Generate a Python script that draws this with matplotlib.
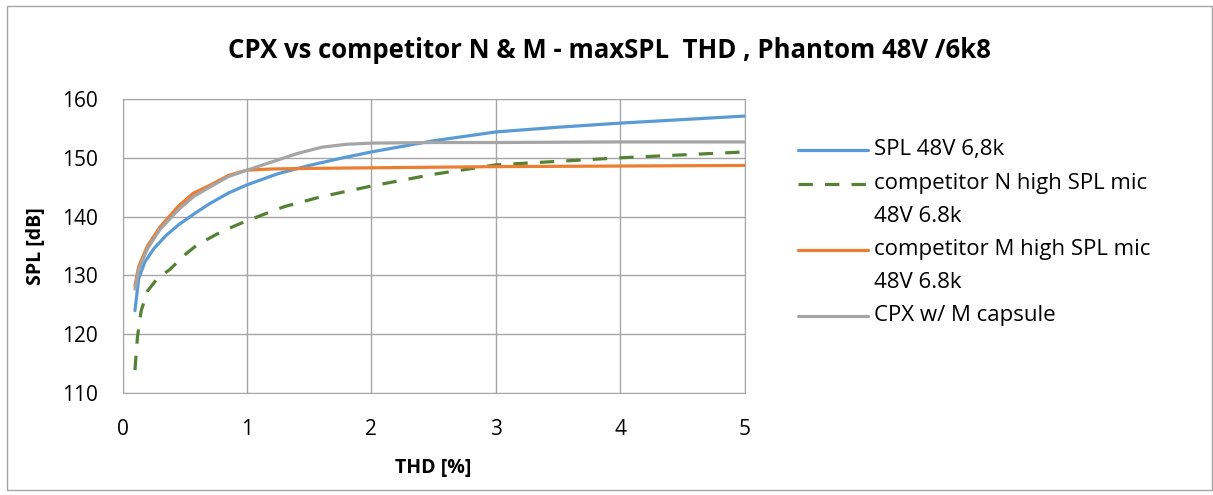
import matplotlib
matplotlib.use("Agg")
import matplotlib.pyplot as plt
from matplotlib.patches import Rectangle
from matplotlib.lines import Line2D

plt.rcParams['font.family'] = ['Open Sans', 'DejaVu Sans']

# THD [%] / SPL [dB] readings
blue_x = [0.1, 0.13, 0.18, 0.25, 0.35, 0.45, 0.57, 0.7, 0.85, 1.0, 1.25, 1.5, 1.75, 2.0, 2.5, 3.0, 3.5, 4.0, 4.5, 5.0]
blue_y = [124.0, 129.5, 132.3, 134.5, 136.8, 138.6, 140.4, 142.2, 144.0, 145.4, 147.3, 148.7, 149.9, 151.0, 152.9, 154.4, 155.2, 155.9, 156.5, 157.1]

green_x = [0.1, 0.12, 0.15, 0.2, 0.28, 0.38, 0.5, 0.6, 0.8, 1.0, 1.3, 1.6, 2.0, 2.5, 3.0, 3.5, 4.0, 4.5, 5.0]
green_y = [113.9, 119.5, 124.0, 127.3, 129.5, 131.0, 133.5, 135.2, 137.5, 139.3, 141.7, 143.4, 145.2, 147.2, 148.8, 149.4, 150.0, 150.5, 151.0]

orange_x = [0.1, 0.13, 0.2, 0.3, 0.45, 0.57, 0.7, 0.85, 1.0, 1.2, 1.5, 2.0, 3.0, 4.0, 5.0]
orange_y = [128.3, 131.5, 135.0, 138.2, 141.8, 144.0, 145.3, 147.0, 147.9, 148.1, 148.2, 148.3, 148.5, 148.6, 148.7]

gray_x = [0.1, 0.13, 0.2, 0.3, 0.45, 0.57, 0.7, 0.85, 1.0, 1.2, 1.4, 1.6, 1.8, 2.0, 2.5, 3.0, 4.0, 5.0]
gray_y = [127.7, 131.0, 134.5, 137.8, 141.2, 143.4, 145.0, 146.8, 147.9, 149.3, 150.7, 151.8, 152.3, 152.5, 152.6, 152.6, 152.7, 152.7]

labels = ["SPL 48V 6,8k",
          "competitor N high SPL mic\n48V 6.8k",
          "competitor M high SPL mic\n48V 6.8k",
          "CPX w/ M capsule"]

W, H = 1213, 495
fig = plt.figure(figsize=(W / 100, H / 100), dpi=100)
fig.patches.append(Rectangle((0.006, 0.01), 0.993, 0.978, transform=fig.transFigure,
                             fill=False, edgecolor='#A6A6A6', linewidth=1))
ax = fig.add_axes([0.101, 0.206, 0.513, 0.594])

lw = 2.3
styles = [dict(color='#5B9BD5', solid_capstyle='round'),
          dict(color='#548235', dashes=(4.5, 3.8)),
          dict(color='#ED7D31', solid_capstyle='round'),
          dict(color='#A5A5A5', solid_capstyle='round')]
series = [(blue_x, blue_y), (green_x, green_y), (orange_x, orange_y), (gray_x, gray_y)]
for (xs, ys), st, lab in zip(series, styles, labels):
    ax.plot(xs, ys, lw=lw, label=lab, **st)

ax.set_xlim(0, 5)
ax.set_ylim(110, 160)
ax.set_xticks(range(0, 6))
ax.set_yticks(range(110, 161, 10))
ax.grid(True, color='#A6A6A6', linewidth=1)
ax.set_axisbelow(True)
for s in ax.spines.values():
    s.set_color('#A6A6A6')
ax.tick_params(axis='y', length=0, labelsize=15, pad=18)
ax.tick_params(axis='x', length=0, labelsize=15, pad=19)
ax.set_xlabel('THD [%]', fontsize=14, fontweight='bold', labelpad=13)
ax.set_ylabel('SPL [dB]', fontsize=14, fontweight='bold', labelpad=11)

fig.text(609 / W, 1 - 50 / H, 'CPX vs competitor N & M - maxSPL  THD , Phantom 48V /6k8',
         ha='center', va='center', fontsize=18.5, fontweight='bold')

# legend drawn by hand so the key sits on the first text line like in Excel
row_y = [150, 184, 250, 316]
line_step = 33
for (st, lab, yy) in zip(styles, labels, row_y):
    fy = 1 - yy / H
    fig.add_artist(Line2D([798 / W, 868 / W], [fy, fy], lw=lw, transform=fig.transFigure, **st))
    for i, part in enumerate(lab.split('\n')):
        fig.text(874 / W, 1 - (yy + i * line_step) / H, part, ha='left', va='center',
                 fontsize=16, transform=fig.transFigure)

fig.savefig('out.png', dpi=100)
